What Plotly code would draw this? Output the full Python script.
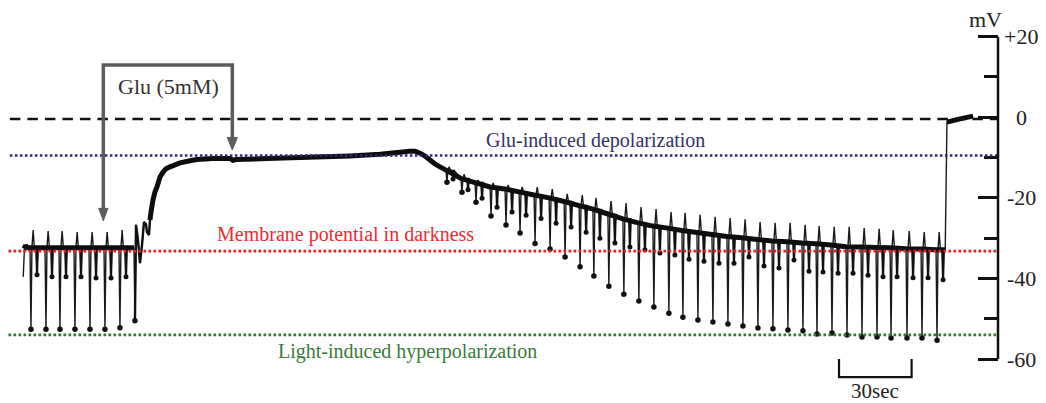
import plotly.graph_objects as go

# ---------------- data read from the recording (time: s, potential: mV) ----------------
start_t = [-0.4, 0.1, 0.5, 1.1]
start_v = [-39.6, -32.6, -31.7, -32.4]

# light flashes before glutamate
flash1_t = [2.40, 8.60, 14.38, 20.58, 26.78, 32.98, 39.17, 45.37]
base1 = [-32.4, -32.4, -32.4, -32.4, -32.4, -32.4, -32.4, -32.4]
trough1 = [-52.6, -52.6, -52.6, -52.6, -52.6, -52.6, -52.2, -50.5]
blip1 = [-28.0, -28.2, -28.2, -28.5, -28.5, -28.5, -28.0]
dip1 = [-39.1, -39.6, -39.6, -39.6, -39.9, -39.9, -39.6]

# pen wiggle when glutamate arrives
wiggle_t = [46.20, 47.02, 47.85, 48.68, 49.50, 50.33, 50.74, 51.57]
wiggle_v = [-26.7, -30.4, -36.2, -31.7, -26.0, -26.5, -28.5, -29.2]

# glutamate-induced depolarization
rise_t = [51.98, 52.40, 53.22, 54.05, 54.88, 56.12, 57.36, 58.60, 60.25, 62.31, 64.38,
          68.51, 71.40, 78.02, 85.04, 86.28, 87.52, 97.44, 113.97, 134.63, 147.02,
          155.29, 159.42, 161.49, 163.55, 165.62, 167.69, 169.75, 171.82]
rise_v = [-25.5, -23.5, -20.5, -18.5, -17.3, -14.8, -13.6, -12.8, -12.3, -11.8, -11.3,
          -10.8, -10.5, -10.2, -10.2, -10.7, -10.5, -10.3, -10.0, -9.6, -9.2,
          -8.7, -8.4, -8.4, -8.9, -9.6, -10.6, -11.6, -12.3]

# light flashes during recovery
flash2_t = [174.3, 180.5, 186.3, 192.5, 198.7, 204.5, 210.7, 216.9, 223.1, 229.3, 235.0,
            241.2, 247.4, 253.6, 259.8, 266.0, 271.8, 278.0, 284.2, 290.4, 296.6, 302.8,
            309.0, 315.2, 321.4, 327.2, 333.4, 339.6, 345.8, 352.0, 357.8, 364.4, 370.6, 376.8]
base2 = [-13.1, -15.2, -16.2, -17.3, -17.8, -18.5, -19.3, -20.0, -20.9, -21.9, -22.8,
         -24.0, -25.2, -26.2, -27.0, -27.5, -28.1, -28.6, -29.1, -29.6, -29.9, -30.3,
         -30.7, -30.9, -31.2, -31.4, -31.7, -32.1, -32.2, -32.3, -32.4, -32.6, -32.7, -32.9]
trough2 = [-16.1, -18.6, -21.1, -24.5, -26.7, -28.7, -31.3, -32.7, -34.7, -37.1, -39.4,
           -41.9, -43.9, -45.6, -47.1, -48.6, -49.6, -50.3, -50.8, -51.3, -51.8, -52.3,
           -52.5, -52.8, -53.0, -53.8, -53.5, -54.0, -54.5, -54.5, -54.8, -54.8, -54.8, -55.3]
blip2 = [-12.3, -14.1, -15.6, -16.3, -16.8, -17.3, -17.3, -17.8, -19.0, -19.3, -20.0,
         -20.8, -21.3, -22.3, -22.8, -23.5, -23.7, -24.2, -24.7, -25.0, -25.3, -26.0,
         -26.2, -26.2, -26.7, -27.0, -27.2, -27.2, -27.5, -27.7, -28.0, -28.2, -28.5, -28.5]
dip2 = [-15.3, -18.0, -20.1, -22.3, -23.5, -24.3, -25.1, -26.3, -27.2, -28.5, -30.0,
        -31.2, -32.2, -32.9, -33.7, -34.2, -35.2, -35.7, -36.2, -36.2, -34.7, -36.9,
        -37.4, -35.4, -38.2, -38.4, -38.7, -38.7, -39.2, -39.6, -39.6, -39.8, -39.8, -40.3]

# jump to 0 mV at the end
end_t = [380.6, 381.3]
end_v = [-32.9, -1.2]
top_t = [381.3, 386.7, 392.1]
top_v = [-1.2, -0.4, 0.3]

# reference levels
level_depol = -9.5
level_dark = -33.2
level_hyper = -54.0
level_zero = -0.4

tick_major = [-60, -40, -20, 0, 20]
tick_minor = [-50, -30, -10, 10]
tick_text = ["-60", "-40", "-20", "0", "+20"]

# ---------------- build the pen trace ----------------
thin_x, thin_y = list(start_t), list(start_v)
thick_x, thick_y = list(start_t[1:]), list(start_v[1:])
tr_x, tr_y, dp_x, dp_y = [], [], [], []
dseg_x, dseg_y = [], []


def add_flash(t, b, tr, bl, dp, last=False):
    thin_x.extend([t, t + 0.4])
    thin_y.extend([b, tr])
    tr_x.append(t + 0.4)
    tr_y.append(tr)
    thick_x.append(t)
    thick_y.append(b)
    if last:
        return
    thin_x.extend([t + 0.8, t + 1.3, t + 1.8, t + 2.6, t + 2.9, t + 3.2])
    thin_y.extend([b, bl, b, b, dp, b])
    dp_x.append(t + 2.9)
    dp_y.append(dp)
    dseg_x.extend([t + 2.6, t + 2.9, t + 3.2, None])
    dseg_y.extend([b, dp, b, None])


for i, t in enumerate(flash1_t):
    if i < len(blip1):
        add_flash(t, base1[i], trough1[i], blip1[i], dip1[i])
    else:
        add_flash(t, base1[i], trough1[i], None, None, last=True)

thick_x.append(None)
thick_y.append(None)
thin_x += wiggle_t + rise_t
thin_y += wiggle_v + rise_v
thick_x += rise_t
thick_y += rise_v

for i, t in enumerate(flash2_t):
    add_flash(t, base2[i], trough2[i], blip2[i], dip2[i])

thin_x += end_t + top_t[1:]
thin_y += end_v + top_v[1:]
thick_x += [end_t[0], None] + top_t
thick_y += [end_v[0], None] + top_v

fig = go.Figure()
fig.add_trace(go.Scatter(x=thin_x, y=thin_y, mode="lines",
                         line=dict(color="#1a1a1a", width=1.4, simplify=False), hoverinfo="skip"))
fig.add_trace(go.Scatter(x=dseg_x, y=dseg_y, mode="lines", connectgaps=False,
                         line=dict(color="#111111", width=2.2, simplify=False), hoverinfo="skip"))
fig.add_trace(go.Scatter(x=[flash1_t[-1] + 0.4] + wiggle_t + rise_t[:1],
                         y=[trough1[-1]] + wiggle_v + rise_v[:1], mode="lines",
                         line=dict(color="#111111", width=2.4, simplify=False), hoverinfo="skip"))
fig.add_trace(go.Scatter(x=thick_x, y=thick_y, mode="lines", connectgaps=False,
                         line=dict(color="#0d0d0d", width=5, simplify=False), hoverinfo="skip"))
fig.add_trace(go.Scatter(x=tr_x, y=tr_y, mode="markers",
                         marker=dict(color="#111111", size=5.5), hoverinfo="skip"))
fig.add_trace(go.Scatter(x=dp_x, y=dp_y, mode="markers",
                         marker=dict(color="#111111", size=5), hoverinfo="skip"))

serif = "Liberation Serif, Times New Roman, serif"
x_left = -5.9
x_right = 402.4

shapes = [
    dict(type="line", xref="x", yref="y", x0=x_left, x1=x_right, y0=level_zero, y1=level_zero,
         line=dict(color="#111111", width=2.5, dash="10.5px,7px")),
    dict(type="line", xref="x", yref="y", x0=x_left, x1=x_right, y0=level_depol, y1=level_depol,
         line=dict(color="#2a2a70", width=2.5, dash="2.5px,2.5px")),
    dict(type="line", xref="x", yref="y", x0=x_left - 0.6, x1=x_right, y0=level_dark, y1=level_dark,
         line=dict(color="#ee1c24", width=2.7, dash="2.7px,2.3px")),
    dict(type="line", xref="x", yref="y", x0=x_left - 0.6, x1=x_right, y0=level_hyper, y1=level_hyper,
         line=dict(color="#2e7a32", width=2.7, dash="2.7px,2.3px")),
    # axis line
    dict(type="line", xref="paper", yref="y", x0=1, x1=1, y0=-60, y1=20,
         line=dict(color="#111111", width=2.5)),
    # Glu bracket
    dict(type="path", xref="x", yref="y",
         path="M 32.7,-23.0 L 32.7,12.98 L 86.0,12.98 L 86.0,-5.4",
         line=dict(color="#5c5c5c", width=3.5)),
    dict(type="path", xref="x", yref="y", path="M 30.8,-22.6 L 34.6,-22.6 L 32.7,-25.7 Z",
         fillcolor="#5c5c5c", line=dict(color="#5c5c5c", width=1)),
    dict(type="path", xref="x", yref="y", path="M 83.9,-5.0 L 88.1,-5.0 L 86.0,-8.1 Z",
         fillcolor="#5c5c5c", line=dict(color="#5c5c5c", width=1)),
    # 30 sec bar
    dict(type="path", xref="x", yref="y",
         path="M 336.7,-60.0 L 336.7,-64.5 L 366.7,-64.5 L 366.7,-60.0",
         line=dict(color="#111111", width=2.2)),
]

annotations = [
    dict(text="Glu (5mM)", x=59.8, y=7.7, xref="x", yref="y", showarrow=False,
         xanchor="center", yanchor="middle",
         font=dict(family=serif, size=22, color="#333333")),
    dict(text="Glu-induced depolarization", x=235.9, y=-5.8, xref="x", yref="y", showarrow=False,
         xanchor="center", yanchor="middle",
         font=dict(family=serif, size=20, color="#33335f")),
    dict(text="Membrane potential in darkness", x=132.6, y=-29.2, xref="x", yref="y", showarrow=False,
         xanchor="center", yanchor="middle",
         font=dict(family=serif, size=20, color="#ee2a30")),
    dict(text="Light-induced hyperpolarization", x=158.2, y=-58.2, xref="x", yref="y", showarrow=False,
         xanchor="center", yanchor="middle",
         font=dict(family=serif, size=20, color="#3a7a3a")),
    dict(text="30sec", x=351.7, y=-67.9, xref="x", yref="y", showarrow=False,
         xanchor="center", yanchor="middle",
         font=dict(family=serif, size=21, color="#222222")),
    dict(text="mV", x=1, xshift=-13, y=24.2, xref="paper", yref="y", showarrow=False,
         xanchor="center", yanchor="middle",
         font=dict(family=serif, size=22, color="#222222")),
]
for v, txt in zip(tick_major, tick_text):
    annotations.append(dict(text=txt, x=1, xshift=23, y=v, xref="paper", yref="y", showarrow=False,
                            xanchor="center", yanchor="middle",
                            font=dict(family=serif, size=22, color="#222222")))

# the page body adds an 8 px offset, so the figure is 8 px smaller on each axis
fig.update_layout(
    width=1038, height=395,
    margin=dict(l=0, r=48, t=0, b=0),
    paper_bgcolor="white", plot_bgcolor="white",
    showlegend=False,
    xaxis=dict(range=[-6.69, x_right], visible=False),
    yaxis=dict(range=[-70.9, 27.12], side="right", showgrid=False, zeroline=False, showline=False,
               ticks="inside", ticklen=20, tickwidth=2.5, tickcolor="#111111",
               tickmode="array", tickvals=tick_major, showticklabels=False,
               minor=dict(tickmode="array", tickvals=tick_minor, ticks="inside",
                          ticklen=14, tickwidth=2.5, tickcolor="#111111")),
    shapes=shapes,
    annotations=annotations,
)

fig.write_html("out.html")
